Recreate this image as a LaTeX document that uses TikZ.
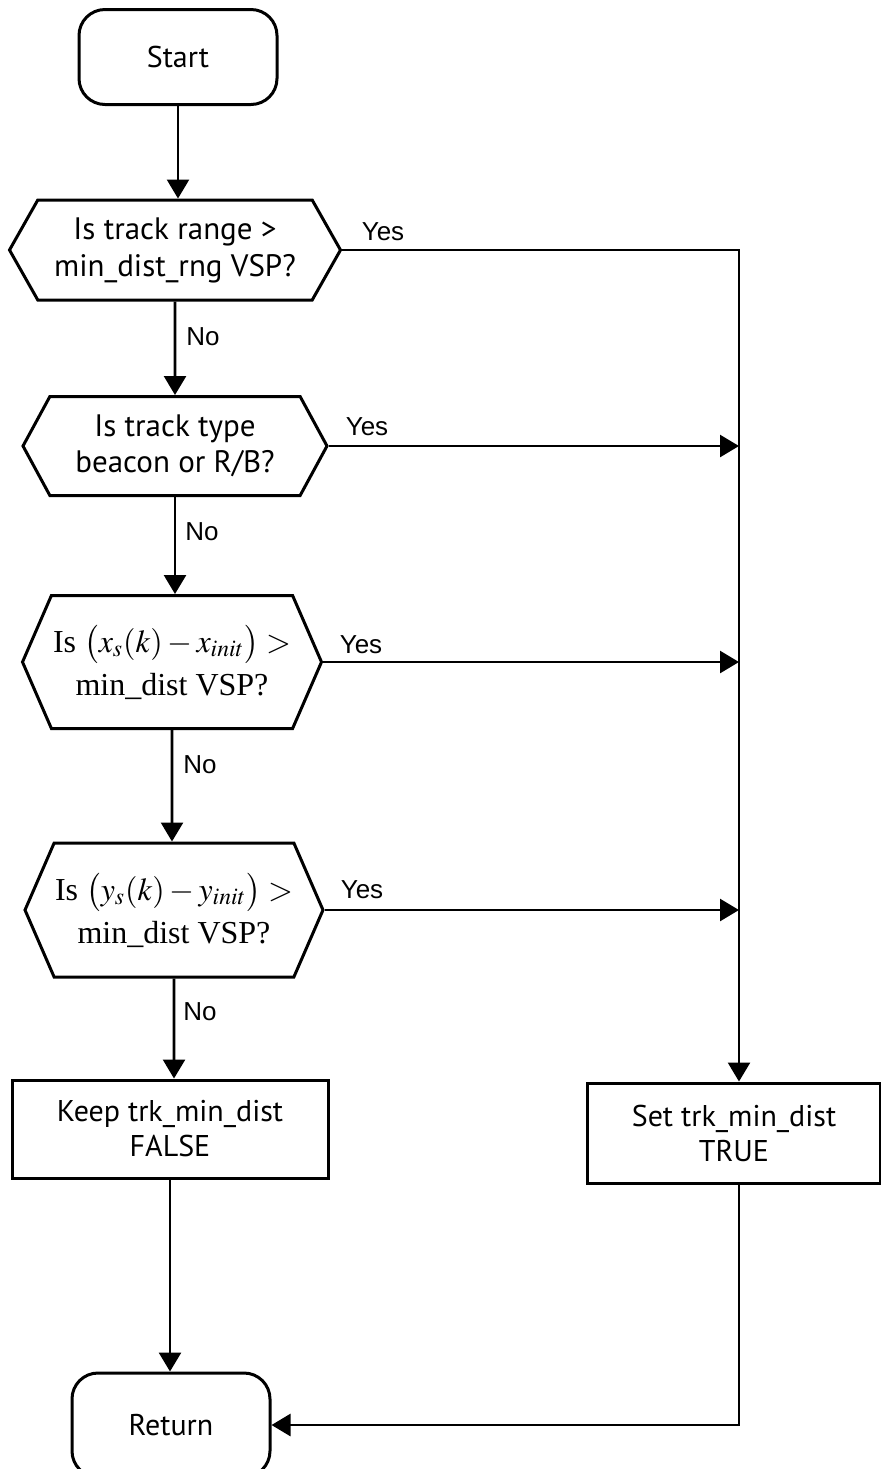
\documentclass[tikz,border=0pt]{standalone}
\usepackage{mathptmx}
\usepackage{fontspec}
\setmainfont{Liberation Serif}
\newfontfamily\boxfont{PT Sans}
\newfontfamily\labelfont{Liberation Sans}
\usetikzlibrary{shapes.symbols,arrows.meta}

\begin{document}
\begin{tikzpicture}[x=0.5pt,y=-0.5pt,line width=1.3pt,>={Triangle[length=9.5pt,width=11pt]},
  terminal/.style = {rectangle,draw,line width=1.5pt,rounded corners=13pt,minimum width=99pt,minimum height=47.5pt,font=\boxfont\fontsize{15}{18.5}\selectfont},
  decision/.style = {signal,signal to=west and east,draw,line width=1.5pt,align=center,inner sep=0pt},
  process/.style = {rectangle,draw,line width=1.5pt,align=center,font=\boxfont\fontsize{15}{17.5}\selectfont},
  answer/.style = {font=\labelfont\fontsize{13}{15}\selectfont}]
\path[fill=white,use as bounding box] (0,0) rectangle (881,1469);
\node[terminal] (start) at (178,57) {Start};
\node[decision,minimum width=165.5pt,minimum height=50pt,signal pointer angle=121,font=\boxfont\fontsize{15.5}{18.5}\selectfont] (range) at (175,250) {Is track range >\\min\_dist\_rng VSP?};
\node[decision,minimum width=152pt,minimum height=49.5pt,signal pointer angle=123,font=\boxfont\fontsize{15.5}{18}\selectfont] (type) at (175,446) {Is track type\\beacon or R/B?};
\node[decision,minimum width=149.5pt,minimum height=66.5pt,signal pointer angle=133,font=\fontsize{16}{21.5}\selectfont] (xdist) at (172,662) {Is $\bigl(x_s(k)-x_{init}\bigr)>$\\min\_dist VSP?};
\node[decision,minimum width=149pt,minimum height=67pt,signal pointer angle=133,font=\fontsize{16}{21.5}\selectfont] (ydist) at (174,910) {Is $\bigl(y_s(k)-y_{init}\bigr)>$\\min\_dist VSP?};
\node[process,minimum width=158pt,minimum height=49pt] (keep) at (170,1129) {Keep trk\_min\_dist\\FALSE};
\node[process,minimum width=146.5pt,minimum height=50pt] (set) at (734,1133) {Set trk\_min\_dist\\TRUE};
\node[terminal,minimum height=52pt] (return) at (171,1425) {Return};
\coordinate (rail) at (739,0);
\foreach \n/\x/\y in {A/383/232, B/367/427, C/361/645, D/362/890}
    \node[answer] (yes\n) at (\x,\y) {Yes};
\foreach \n/\x/\y in {A/203/337, B/202/532, C/200/765, D/200/1012}
    \node[answer] (no\n) at (\x,\y) {No};
\foreach \a/\b in {start/range, range/type, type/xdist, xdist/ydist, ydist/keep, keep/return}
    \draw[->] (\a) -- (\a |- \b.north);
\draw[->] (range.east) -- (range.east -| rail) -- (rail |- set.north);
\foreach \q in {type, xdist, ydist}
    \draw[->] (\q.east) -- (\q.east -| rail);
\draw[->] (rail |- set.south) |- (return.east);
\end{tikzpicture}
\end{document}
